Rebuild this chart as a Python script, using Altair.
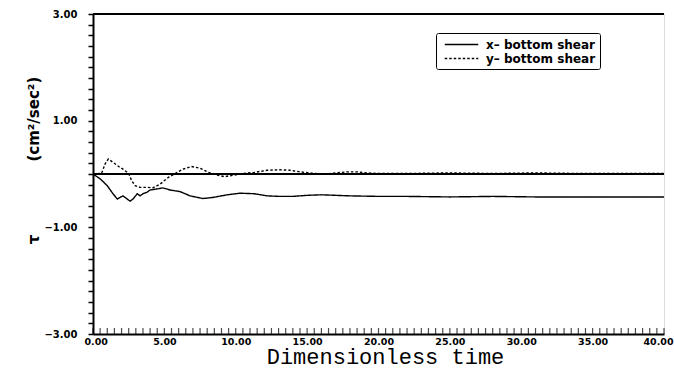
import altair as alt
import pandas as pd

# ---- data ----
t_x = [0, 0.5, 1.0, 1.4, 1.7, 1.9, 2.1, 2.4, 2.6, 2.8, 3.1, 3.3, 3.5, 3.8, 4.0, 4.5, 4.9,
       5.4, 6.1, 6.8, 7.7, 8.4, 9.4, 10.3, 11.3, 12.2, 13.1, 14.0, 15.0, 16.0, 17.0, 18.0,
       20, 22, 25, 28, 31, 34, 37, 40]
x_shear = [0, -0.09, -0.22, -0.37, -0.47, -0.44, -0.41, -0.47, -0.51, -0.47, -0.37, -0.41,
           -0.37, -0.34, -0.30, -0.28, -0.26, -0.30, -0.33, -0.41, -0.46, -0.44, -0.39, -0.36,
           -0.37, -0.41, -0.42, -0.42, -0.40, -0.39, -0.40, -0.41, -0.42, -0.42, -0.43, -0.42,
           -0.43, -0.43, -0.43, -0.43]

t_y = [0, 0.6, 0.85, 1.07, 1.4, 1.8, 2.1, 2.5, 2.7, 2.95, 3.3, 3.8, 4.2, 4.7, 5.3, 5.9, 6.3,
       6.9, 7.5, 8.1, 8.7, 9.2, 9.9, 10.5, 11.3, 12.2, 13.1, 13.8, 14.5, 15.5, 16.4, 17.0,
       17.8, 18.5, 19.2, 20, 22, 25, 28, 31, 34, 37, 40]
y_shear = [0, 0.01, 0.19, 0.28, 0.22, 0.14, 0.09, 0.01, -0.12, -0.22, -0.25, -0.25, -0.26,
           -0.19, -0.06, 0.03, 0.09, 0.14, 0.11, 0.03, -0.02, -0.05, -0.02, 0.01, 0.03, 0.07,
           0.08, 0.07, 0.04, 0.01, 0.0, 0.02, 0.04, 0.04, 0.02, 0.01, 0.01, 0.02, 0.01, 0.02,
           0.01, 0.01, 0.01]

series_names = ["x\u2013 bottom shear", "y\u2013 bottom shear"]
x_label_values = [0, 5, 10, 15, 20, 25, 30, 35, 40]
x_minor_ticks = [i * 0.5 for i in range(81)]
y_tick_values = [round(-3 + i * 0.2, 1) for i in range(31)]

df = pd.concat([
    pd.DataFrame({"t": t_x, "tau": x_shear, "series": series_names[0]}),
    pd.DataFrame({"t": t_y, "tau": y_shear, "series": series_names[1]}),
])
ticks_df = pd.DataFrame({"t": x_minor_ticks})

xscale = alt.Scale(domain=[0, 40], nice=False, zero=False)
yscale = alt.Scale(domain=[-3, 3], nice=False, zero=False)

ytitle = "\u03c4" + "\u00a0" * 14 + "(cm\u00b2/sec\u00b2)"

xaxis = alt.Axis(
    values=x_label_values, format=".2f", ticks=False, grid=False, tickCount=9,
    labelFlush=True, labelFlushOffset=9, labelOverlap=False,
    labelFont="DejaVu Sans", labelFontWeight="bold", labelFontSize=9.5, labelColor="black",
    labelPadding=2, domainColor="black", domainWidth=2,
    title="Dimensionless time", titleFont="Liberation Mono", titleFontSize=22,
    titleFontWeight="normal", titleColor="black",
    titleX=292, titleY=29, titleBaseline="alphabetic", titleAlign="center")

yaxis = alt.Axis(
    values=y_tick_values, tickCount=31,
    labelExpr="(abs(round(datum.value*10)) == 30 || abs(round(datum.value*10)) == 10) ? format(datum.value, '.2f') : ''",
    labelFlush=False, labelOverlap=False,
    grid=False, tickSize=5, tickWidth=1.5, tickColor="black",
    labelFont="DejaVu Sans", labelFontWeight="bold", labelFontSize=10, labelColor="black",
    labelPadding=11, domainColor="black", domainWidth=2,
    title=ytitle, titleFont="DejaVu Sans", titleFontSize=15, titleFontWeight="bold",
    titleColor="black", titleX=-60, titleY=146, titleBaseline="middle", titleAlign="center",
    titleAngle=270)

lines = alt.Chart(df).mark_line(color="black", strokeWidth=1.4).encode(
    x=alt.X("t:Q", scale=xscale, axis=xaxis),
    y=alt.Y("tau:Q", scale=yscale, axis=yaxis),
    strokeDash=alt.StrokeDash("series:N",
        scale=alt.Scale(domain=series_names, range=[[1, 0], [2.5, 2]]),
        legend=alt.Legend(
            title=None, orient="none", legendX=343, legendY=19,
            symbolType="M-2.5,0H2.5", symbolSize=180, symbolStrokeWidth=1.3,
            symbolStrokeColor="black", symbolOffset=14,
            labelFont="DejaVu Sans", labelFontWeight="bold", labelFontSize=12,
            labelColor="black", labelOffset=17, rowPadding=-5, padding=4,
            strokeColor="black", fillColor="white", cornerRadius=2)),
)

zero_line = alt.Chart(df).mark_rule(color="black", strokeWidth=1.3).encode(
    y=alt.Y(datum=0))

top_line = alt.Chart(df).mark_rule(color="black", strokeWidth=2).encode(
    y=alt.Y(datum=3))

x_ticks = alt.Chart(ticks_df).mark_tick(
    orient="vertical", color="black", size=6, thickness=1.2, yOffset=-3).encode(
    x=alt.X("t:Q"),
    y=alt.Y(datum=-3))

chart = alt.layer(lines, zero_line, top_line, x_ticks).properties(
    width=571, height=320,
    autosize=alt.AutoSizeParams(type="none"),
    padding={"left": 93, "top": 14, "right": 10, "bottom": 39},
).configure_view(stroke="black", strokeWidth=1.2).configure(background="white")

chart.save("out.html", embed_options={"renderer": "svg", "actions": False})
